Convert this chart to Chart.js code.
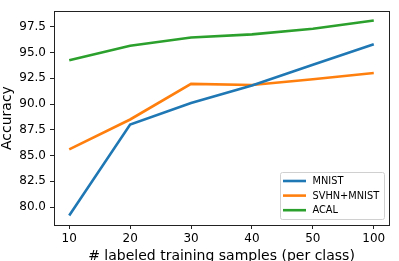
<!DOCTYPE html>
<html><head><meta charset="utf-8">
<script src="https://cdn.jsdelivr.net/npm/chart.js@4"></script>
<style>html,body{margin:0;padding:0;background:#fff}#wrap{width:399px;height:261px}</style>
</head><body><div id="wrap"><canvas id="c" width="399" height="261"></canvas></div>
<script>
const categories = ['10', '20', '30', '40', '50', '100'];
const mnist = [79.2, 88.0, 90.1, 91.8, 93.8, 95.8];
const svhnMnist = [85.6, 88.5, 91.95, 91.85, 92.4, 93.0];
const acal = [94.25, 95.65, 96.45, 96.75, 97.3, 98.1];
const yTicks = [80.0, 82.5, 85.0, 87.5, 90.0, 92.5, 95.0, 97.5];
const seriesNames = ['MNIST', 'SVHN+MNIST', 'ACAL'];
const colors = ['#1f77b4', '#ff7f0e', '#2ca02c'];
const FONT = 'DejaVu Sans';

const toPts = arr => arr.map((v, i) => ({x: i, y: v}));

const frame = {
  id: 'frame',
  afterDatasetsDraw(chart) {
    const a = chart.chartArea, ctx = chart.ctx;
    ctx.save();
    ctx.strokeStyle = '#222'; ctx.lineWidth = 1;
    ctx.strokeRect(Math.round(a.left) + 0.5, Math.round(a.top) + 0.5, Math.round(a.right - a.left), Math.round(a.bottom - a.top));
    // legend
    const bx = 280.5, by = 172.5, bw = 104, bh = 47;
    ctx.fillStyle = 'rgba(255,255,255,0.8)';
    ctx.strokeStyle = '#d0d0d0';
    ctx.beginPath();
    if (ctx.roundRect) ctx.roundRect(bx, by, bw, bh, 2); else ctx.rect(bx, by, bw, bh);
    ctx.fill(); ctx.stroke();
    ctx.font = '9.8px "' + FONT + '"';
    ctx.textBaseline = 'middle';
    seriesNames.forEach((n, i) => {
      const y = 181 + i * 14.6;
      ctx.strokeStyle = colors[i]; ctx.lineWidth = 2.6;
      ctx.beginPath(); ctx.moveTo(283, y); ctx.lineTo(306, y); ctx.stroke();
      ctx.fillStyle = '#000';
      ctx.fillText(n, 312.5, y + 0.5);
    });
    ctx.restore();
  }
};

new Chart(document.getElementById('c'), {
  type: 'line',
  data: {
    datasets: [
      {label: seriesNames[0], data: toPts(mnist), borderColor: colors[0]},
      {label: seriesNames[1], data: toPts(svhnMnist), borderColor: colors[1]},
      {label: seriesNames[2], data: toPts(acal), borderColor: colors[2]}
    ].map(d => Object.assign(d, {borderWidth: 2.6, pointRadius: 0, tension: 0, fill: false}))
  },
  options: {
    responsive: false, animation: false,
    layout: {padding: {top: 8, right: 10, left: 0, bottom: 0}},
    plugins: {legend: {display: false}, tooltip: {enabled: false}},
    scales: {
      x: {
        type: 'linear', min: -0.25, max: 5.25,
        afterBuildTicks: s => { s.ticks = categories.map((c, i) => ({value: i})); },
        afterFit: s => { s.height = 36; },
        ticks: {callback: v => categories[v], color: '#000', font: {family: FONT, size: 12}, padding: 3, maxRotation: 0, autoSkip: false},
        grid: {display: true, drawOnChartArea: false, drawTicks: true, tickLength: 4, color: '#222'},
        border: {display: false},
        title: {display: true, text: '# labeled training samples (per class)', color: '#000', font: {family: FONT, size: 14}, padding: {top: 0, bottom: -4}}
      },
      y: {
        type: 'linear', min: 78.27, max: 99.0,
        afterBuildTicks: s => { s.ticks = yTicks.map(v => ({value: v})); },
        afterFit: s => { s.width = 54; },
        ticks: {callback: v => v.toFixed(1), color: '#000', font: {family: FONT, size: 12}, padding: 4},
        grid: {display: true, drawOnChartArea: false, drawTicks: true, tickLength: 4, color: '#222'},
        border: {display: false},
        title: {display: true, text: 'Accuracy', color: '#000', font: {family: FONT, size: 14}, padding: {top: -1, bottom: 2}}
      }
    }
  },
  plugins: [frame]
});
</script></body></html>
